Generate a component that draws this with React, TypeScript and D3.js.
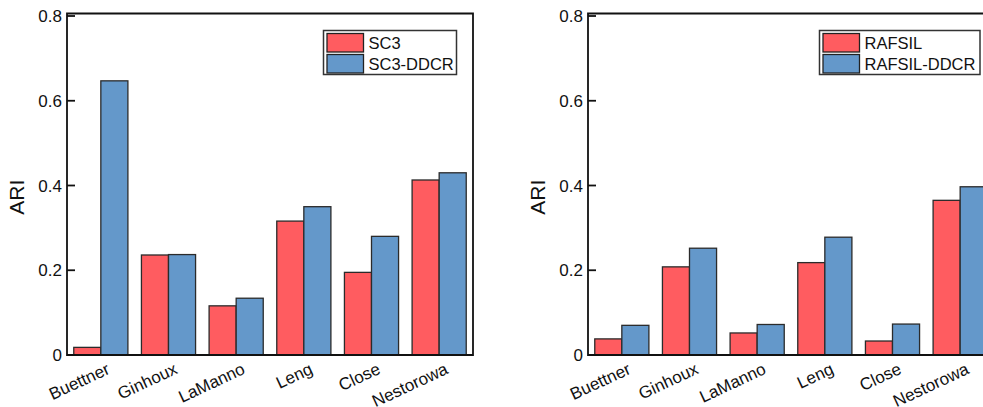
import React from "react";
import * as d3 from "d3";

const datasets = ["Buettner", "Ginhoux", "LaManno", "Leng", "Close", "Nestorowa"];
const sc3Values = [0.018, 0.236, 0.116, 0.316, 0.195, 0.413];
const sc3DdcrValues = [0.647, 0.237, 0.134, 0.350, 0.280, 0.430];
const rafsilValues = [0.038, 0.208, 0.052, 0.218, 0.033, 0.365];
const rafsilDdcrValues = [0.070, 0.252, 0.072, 0.278, 0.073, 0.397];
const yTicks = [0, 0.2, 0.4, 0.6, 0.8];

const RED = "#FF5C60";
const BLUE = "#6498CA";
const FONT = "Liberation Sans, Arial, sans-serif";

const WIDTH = 983;
const HEIGHT = 407;
const TOP = 13.5;
const BOTTOM = 355;
const PANEL_W = 406;

interface PanelProps {
  x0: number;
  names: [string, string];
  a: number[];
  b: number[];
  legendX: number;
  legendW: number;
}

function Panel({ x0, names, a, b, legendX, legendW }: PanelProps) {
  const x = d3
    .scaleBand<string>()
    .domain(datasets)
    .range([x0, x0 + PANEL_W])
    .paddingInner(0.2)
    .paddingOuter(0.1);
  const sub = d3
    .scaleBand<number>()
    .domain([0, 1])
    .range([0, x.bandwidth()]);
  const y = d3.scaleLinear().domain([0, 0.8]).range([BOTTOM, 16]);
  const series = [a, b];
  const colors = [RED, BLUE];
  const right = x0 + PANEL_W;

  return (
    <g>
      {datasets.map((d, i) => (
        <g key={d}>
          {series.map((s, k) => (
            <rect
              key={k}
              x={(x(d) as number) + (sub(k) as number)}
              y={y(s[i])}
              width={sub.bandwidth()}
              height={BOTTOM - y(s[i])}
              fill={colors[k]}
              stroke="#2b2b2b"
              strokeWidth={1.3}
            />
          ))}
          <text
            transform={`translate(${(x(d) as number) + x.bandwidth() / 2 + 10},${BOTTOM + 18}) rotate(-25)`}
            textAnchor="end"
            fontSize={17}
            fontFamily={FONT}
            fill="#111"
          >
            {d}
          </text>
        </g>
      ))}
      {/* frame */}
      <path
        d={`M${x0},${TOP}H${right}V${BOTTOM}H${x0}Z`}
        fill="none"
        stroke="#111"
        strokeWidth={1.8}
      />
      {yTicks.map((t) => (
        <g key={t}>
          <line x1={x0} x2={x0 + 8} y1={y(t)} y2={y(t)} stroke="#111" strokeWidth={1.8} />
          <text
            x={x0 - 5}
            y={y(t)}
            dy="0.36em"
            textAnchor="end"
            fontSize={17}
            fontFamily={FONT}
            fill="#111"
          >
            {t === 0 ? "0" : t.toFixed(1)}
          </text>
        </g>
      ))}
      <text
        transform={`translate(${x0 - 43},${(TOP + BOTTOM) / 2 + 13}) rotate(-90)`}
        textAnchor="middle"
        fontSize={21}
        fontFamily={FONT}
        fill="#111"
      >
        ARI
      </text>
      {/* legend */}
      <g>
        <rect
          x={legendX}
          y={30.5}
          width={legendW}
          height={44}
          fill="#fff"
          stroke="#333"
          strokeWidth={1.5}
        />
        {names.map((n, k) => (
          <g key={n}>
            <rect
              x={legendX + 3.5}
              y={33.5 + k * 21}
              width={36.5}
              height={18.5}
              fill={colors[k]}
              stroke="#222"
              strokeWidth={1.3}
            />
            <text
              x={legendX + 45}
              y={43 + k * 21}
              dy="0.36em"
              fontSize={16.5}
              fontFamily={FONT}
              fill="#111"
            >
              {n}
            </text>
          </g>
        ))}
      </g>
    </g>
  );
}

export default function App() {
  return (
    <svg
      width={WIDTH}
      height={HEIGHT}
      style={{ position: "absolute", left: 0, top: 0, background: "#fff" }}
    >
      <rect width={WIDTH} height={HEIGHT} fill="#fff" />
      <Panel x0={67} names={["SC3", "SC3-DDCR"]} a={sc3Values} b={sc3DdcrValues} legendX={323.5} legendW={133} />
      <Panel x0={588} names={["RAFSIL", "RAFSIL-DDCR"]} a={rafsilValues} b={rafsilDdcrValues} legendX={819.5} legendW={160.5} />
    </svg>
  );
}
